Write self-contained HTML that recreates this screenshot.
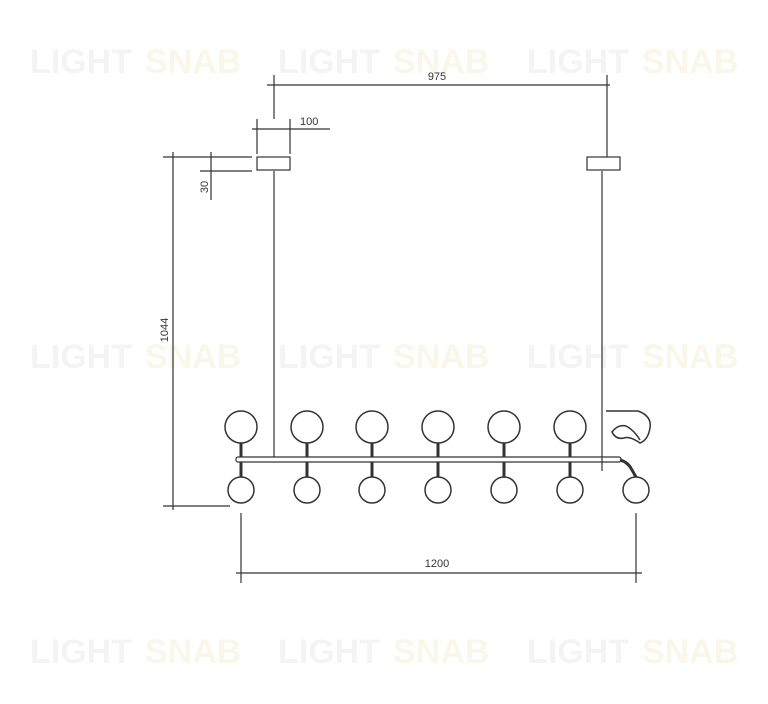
<!DOCTYPE html>
<html><head><meta charset="utf-8"><style>
html,body{margin:0;padding:0;background:#fff;}
svg{display:block;}
</style></head><body>
<svg width="768" height="704" viewBox="0 0 768 704" xmlns="http://www.w3.org/2000/svg" font-family="Liberation Sans, sans-serif">
<g font-size="34" font-weight="bold">
  <g fill="#f4f4f4">
    <text x="30" y="73">LIGHT</text><text x="278" y="73">LIGHT</text><text x="527" y="73">LIGHT</text>
    <text x="30" y="368">LIGHT</text><text x="278" y="368">LIGHT</text><text x="527" y="368">LIGHT</text>
    <text x="30" y="663">LIGHT</text><text x="278" y="663">LIGHT</text><text x="527" y="663">LIGHT</text>
  </g>
  <g fill="#faf6ea">
    <text x="145" y="73">SNAB</text><text x="393" y="73">SNAB</text><text x="642" y="73">SNAB</text>
    <text x="145" y="368">SNAB</text><text x="393" y="368">SNAB</text><text x="642" y="368">SNAB</text>
    <text x="145" y="663">SNAB</text><text x="393" y="663">SNAB</text><text x="642" y="663">SNAB</text>
  </g>
</g>
<g stroke="#333" stroke-width="1.2" fill="none">
  <line x1="267" y1="85" x2="610" y2="85"/>
  <line x1="274" y1="75" x2="274" y2="119"/>
  <line x1="607" y1="75" x2="607" y2="157"/>
  <line x1="252" y1="129" x2="330" y2="129"/>
  <line x1="257" y1="119" x2="257" y2="154"/>
  <line x1="290" y1="119" x2="290" y2="154"/>
  <line x1="163" y1="157" x2="252" y2="157"/>
  <line x1="200" y1="171" x2="252" y2="171"/>
  <line x1="211" y1="152" x2="211" y2="200"/>
  <line x1="173" y1="152" x2="173" y2="510"/>
  <line x1="163" y1="506" x2="230" y2="506"/>
  <line x1="236" y1="573" x2="642" y2="573"/>
  <line x1="241" y1="513" x2="241" y2="583"/>
  <line x1="636" y1="513" x2="636" y2="583"/>
  <rect x="257" y="157" width="33" height="13"/>
  <rect x="587" y="157" width="33" height="13"/>
  <line x1="274" y1="171" x2="274" y2="457"/>
  <line x1="602" y1="171" x2="602" y2="471"/>
  <rect x="236" y="457" width="385" height="5" rx="2"/>
</g>
<g stroke="#333" stroke-width="1.5" fill="none">
  <circle cx="241" cy="427" r="16"/>
  <circle cx="307" cy="427" r="16"/>
  <circle cx="372" cy="427" r="16"/>
  <circle cx="438" cy="427" r="16"/>
  <circle cx="504" cy="427" r="16"/>
  <circle cx="570" cy="427" r="16"/>
  <path d="M606 411 L638 411 Q652 416 650 428 Q648 440 640 443 Q630 436 624 438 Q616 440 612 432 Q618 424 626 426 Q634 430 640 440"/>
  <circle cx="241" cy="490" r="13"/>
  <circle cx="307" cy="490" r="13"/>
  <circle cx="372" cy="490" r="13"/>
  <circle cx="438" cy="490" r="13"/>
  <circle cx="504" cy="490" r="13"/>
  <circle cx="570" cy="490" r="13"/>
  <circle cx="636" cy="490" r="13"/>
</g>
<g stroke="#333" stroke-width="3" fill="none">
  <line x1="241" y1="443" x2="241" y2="457"/><line x1="241" y1="462" x2="241" y2="477"/>
  <line x1="307" y1="443" x2="307" y2="457"/><line x1="307" y1="462" x2="307" y2="477"/>
  <line x1="372" y1="443" x2="372" y2="457"/><line x1="372" y1="462" x2="372" y2="477"/>
  <line x1="438" y1="443" x2="438" y2="457"/><line x1="438" y1="462" x2="438" y2="477"/>
  <line x1="504" y1="443" x2="504" y2="457"/><line x1="504" y1="462" x2="504" y2="477"/>
  <line x1="570" y1="443" x2="570" y2="457"/><line x1="570" y1="462" x2="570" y2="477"/>
  <path d="M620 460 Q628 462 632 470 L636 477"/>
</g>
<g fill="#333" font-size="11">
  <text x="437" y="80" text-anchor="middle">975</text>
  <text x="300" y="125">100</text>
  <text x="437" y="567" text-anchor="middle">1200</text>
  <text transform="translate(208,187) rotate(-90)" text-anchor="middle">30</text>
  <text transform="translate(168,330) rotate(-90)" text-anchor="middle">1044</text>
</g>
</svg>
</body></html>
